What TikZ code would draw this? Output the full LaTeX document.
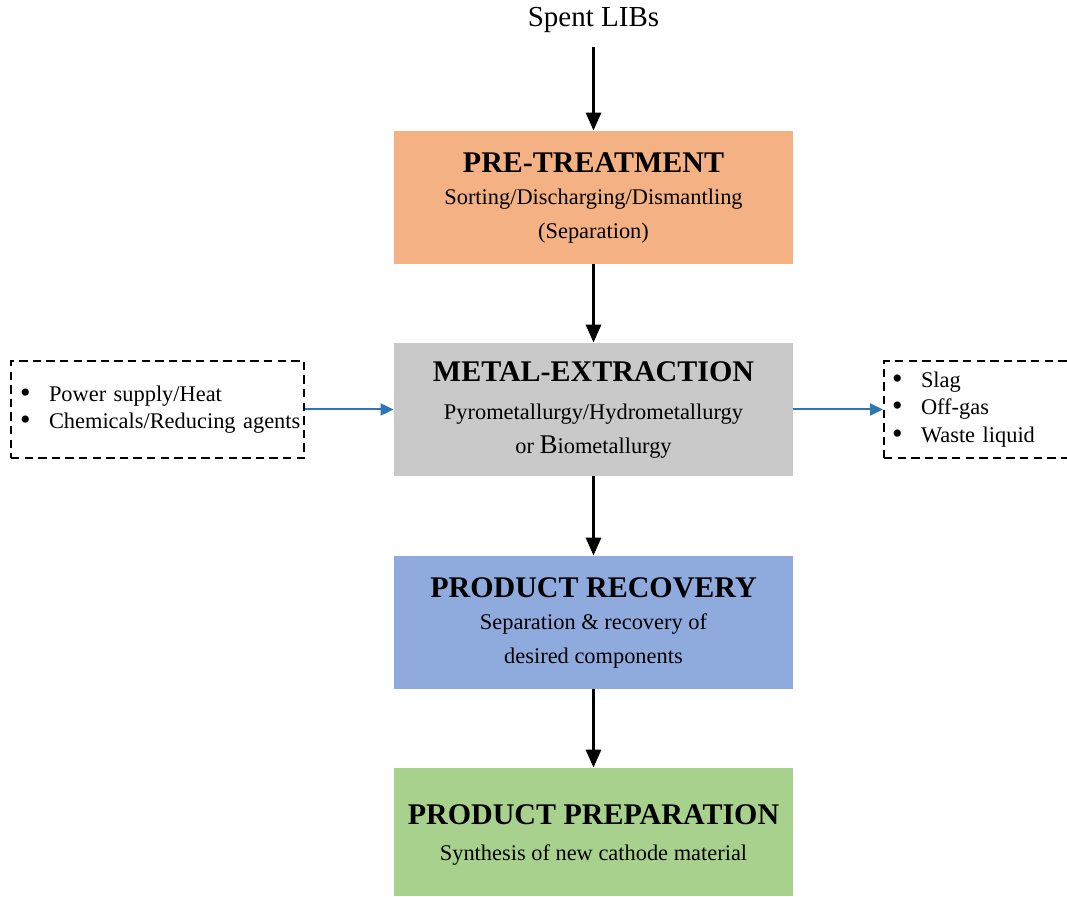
\documentclass[tikz,border=0pt]{standalone}
\usepackage{fontspec}
\setmainfont{Liberation Serif}
\usetikzlibrary{arrows.meta}
\definecolor{pretreat}{HTML}{F4B183}
\definecolor{extract}{HTML}{C9C9C9}
\definecolor{recover}{HTML}{8FAADC}
\definecolor{prepare}{HTML}{A9D18E}
\definecolor{feedblue}{HTML}{2E75B6}
\newcommand{\stagetitle}[1]{{\fontsize{15}{18}\selectfont\bfseries #1}}
\newcommand{\bitem}[1]{\mbox{\makebox[14.5pt][l]{\smash{\raisebox{-0.5pt}{\fontsize{15}{15}\selectfont\textbullet}}}#1}}
\tikzset{
  stage/.style={minimum width=199.5pt, minimum height=66.5pt, align=center,
    inner sep=0pt, font=\fontsize{11.2}{17}\selectfont},
  flow/.style={line width=1.5pt, -{Triangle[length=9pt,width=7.5pt]}},
  side/.style={line width=1pt, feedblue, -{Triangle[length=6.5pt,width=6pt]}},
  dashbox/.style={draw, line width=1pt, dash pattern=on 4.2pt off 2.6pt,
    minimum height=48.5pt, align=left, font=\fontsize{11.2}{13.6}\selectfont}
}
\begin{document}
\begin{tikzpicture}[x=0.5pt,y=-0.5pt]
   \useasboundingbox (0,0) rectangle (1067,897);
   \clip (0,0) rectangle (1067,897);

   \node[inner sep=7pt, font=\fontsize{14.5}{17}\selectfont] (spent) at (593.5,20) {Spent LIBs};

   \node[stage, fill=pretreat] (pre) at (593.5,197.5)
     {\stagetitle{PRE-TREATMENT}\\[-1pt] Sorting/Discharging/Dismantling\\ (Separation)};
   \node[stage, fill=extract] (metal) at (593.5,409.5)
     {\stagetitle{METAL-EXTRACTION}\\[2pt] Pyrometallurgy/Hydrometallurgy\\
      or {\fontsize{13.5}{17}\selectfont B}iometallurgy};
   \node[stage, fill=recover] (recovery) at (593.5,622.5)
     {\stagetitle{PRODUCT RECOVERY}\\[-1pt] Separation \& recovery of\\ desired components};
   \node[stage, fill=prepare, minimum height=64pt] (prep) at (593.5,832)
     {\rule{0pt}{0pt}\\[-4pt]\stagetitle{PRODUCT PREPARATION}\\[1pt] Synthesis of new cathode material};

   \node[dashbox, inner xsep=4.5pt, text width=137.5pt] (inputs) at (157.5,409.5)
     {\bitem{Power supply/Heat}\\ \bitem{Chemicals/Reducing agents}};
   \node[dashbox, anchor=west, inner xsep=4pt, text width=112pt] (outputs) at (883,409.5)
     {\bitem{Slag}\\ \bitem{Off-gas}\\ \bitem{Waste liquid}};

   \draw[flow] (spent) -- (pre);
   \draw[flow] (pre) -- (metal);
   \draw[flow] (metal) -- (recovery);
   \draw[flow] (recovery) -- (prep);
   \draw[side] (inputs) -- (metal);
   \draw[side] (metal) -- (outputs);
\end{tikzpicture}
\end{document}
